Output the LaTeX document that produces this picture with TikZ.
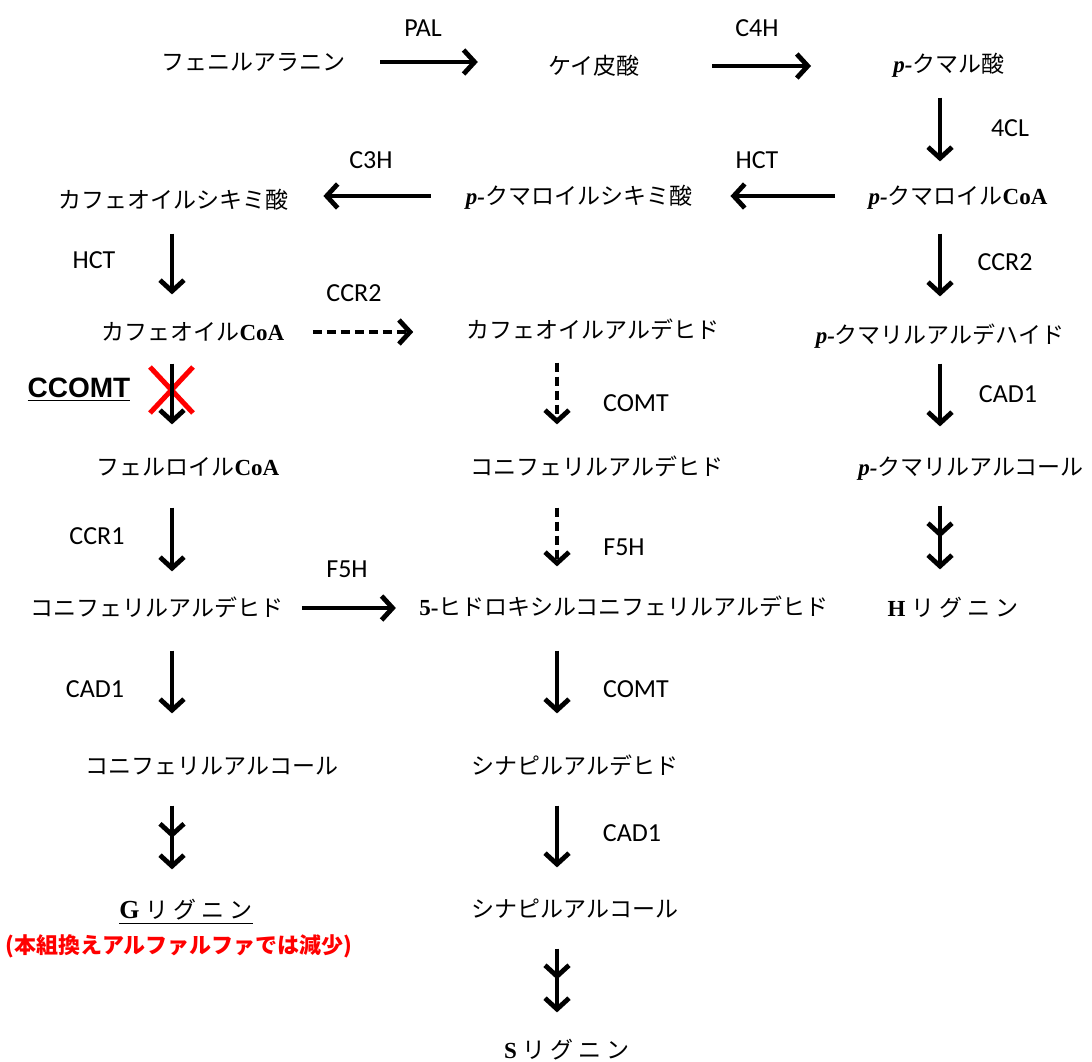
\documentclass[tikz,border=0pt]{standalone}
\usepackage{fontspec}
\setmainfont{Liberation Serif}
\newfontfamily\cjk{Noto Sans CJK JP}
\newfontfamily\enzfont{Carlito}
\newfontfamily\arialfont{Liberation Sans}
\usetikzlibrary{arrows.meta,decorations.markings}
\newcommand{\lat}[1]{{\rmfamily\bfseries #1}}
\newcommand{\pdash}{{\rmfamily\bfseries\itshape p-}}
\newcommand{\lig}{\hspace{3pt}リ\hspace{2.5pt}グ\hspace{2.5pt}ニ\hspace{2.5pt}ン}
\tikzset{
  cmp/.style={font=\cjk\fontsize{11.5}{14}\selectfont, text height=10pt, text depth=1.2pt, inner ysep=0.5pt, inner xsep=0pt},
  enz/.style={font=\enzfont\fontsize{13}{15}\selectfont, inner sep=0pt},
  arr/.style={line width=1.7pt, -{Straight Barb[length=5.5pt,width=12pt,line width=2.4pt]}},
  dsh/.style={arr, dash pattern=on 4.5pt off 2.5pt},
  twostep/.style={arr, postaction={decorate},
    decoration={markings, mark=at position 0.5 with {\arrow{Straight Barb[length=5.5pt,width=12pt,line width=2.4pt]}}}}
}
\begin{document}
\begin{tikzpicture}[x=0.5pt,y=-0.5pt]
\useasboundingbox (0,0) rectangle (1092,1061);
\coordinate (colL) at (172,0);
\coordinate (colM) at (557,0);
\coordinate (colR) at (940,0);

% compounds
\node[cmp] (phe) at (253,62) {フェニルアラニン};
\node[cmp] (cin) at (594,66) {ケイ皮酸};
\node[cmp] (pcou) at (949,64) {\pdash クマル酸};
\node[cmp] (pcoa) at (958,196) {\pdash クマロイル\lat{CoA}};
\node[cmp] (pshik) at (579,196) {\pdash クマロイルシキミ酸};
\node[cmp] (cshik) at (173,200) {カフェオイルシキミ酸};
\node[cmp] (cafcoa) at (193,332) {カフェオイル\lat{CoA}};
\node[cmp] (cafald) at (593,330) {カフェオイルアルデヒド};
\node[cmp] (pald) at (940,335) {\pdash クマリルアルデハイド};
\node[cmp] (ferucoa) at (188,467) {フェルロイル\lat{CoA}};
\node[cmp] (conaldM) at (597,467) {コニフェリルアルデヒド};
\node[cmp] (palc) at (971,467) {\pdash クマリルアルコール};
\node[cmp] (conaldL) at (157,608) {コニフェリルアルデヒド};
\node[cmp] (hydrox) at (624,607) {\lat{5-}ヒドロキシルコニフェリルアルデヒド};
\node[cmp] (hlig) at (953,608) {\lat{H}\lig};
\node[cmp] (conalc) at (212,766) {コニフェリルアルコール};
\node[cmp] (sinald) at (575,766) {シナピルアルデヒド};
\node[cmp] (glig) at (186,910) {\underline{{\rmfamily\bfseries\fontsize{13}{14}\selectfont G}\lig}};
\node[cmp] (sinalc) at (575,909) {シナピルアルコール};
\node[cmp] (slig) at (567,1050) {\lat{S}\lig};
\node[font=\cjk\bfseries\fontsize{11}{14}\selectfont, text=red, inner sep=0pt] (note) at (179,946) {(本組換えアルファルファでは減少)};

% enzymes
\node[enz] (pal) at (423,28) {PAL};
\node[enz] (c4h) at (757,28) {C4H};
\node[enz] (cl4) at (1010,128) {4CL};
\node[enz] (c3h) at (371,160) {C3H};
\node[enz] (hctR) at (757,160) {HCT};
\node[enz] (hctL) at (94,260) {HCT};
\node[enz] (ccr2L) at (354,293) {CCR2};
\node[enz] (ccr2R) at (1005,262) {CCR2};
\node[enz] (comtA) at (636,403) {COMT};
\node[enz] (cad1R) at (1008,394) {CAD1};
\node[enz] (f5hM) at (624,547) {F5H};
\node[enz] (ccr1) at (97,536) {CCR1};
\node[enz] (f5hL) at (347,569) {F5H};
\node[enz] (cad1L) at (95,689) {CAD1};
\node[enz] (comtB) at (636,689) {COMT};
\node[enz] (cad1M) at (632,833) {CAD1};
\node[font=\arialfont\bfseries\fontsize{14}{16}\selectfont, inner sep=0pt] (ccomt) at (79,390) {\underline{CCOMT}};

% blocked step
\draw[red, line width=2.5pt] (150,367) -- (193,413);
\draw[red, line width=2.5pt] (193,367) -- (150,413);

% horizontal steps
\draw[arr, shorten <=17.5pt, shorten >=35pt] (phe.east) -- (phe.east -| cin.west);
\draw[arr, shorten <=36pt, shorten >=41pt] (cin.east) -- (cin.east -| pcou.west);
\draw[arr, shorten <=16.5pt, shorten >=19pt] (pcoa.west) -- (pcoa.west -| pshik.east);
\draw[arr, shorten <=17.5pt, shorten >=17.5pt] (pshik.west) -- (pshik.west -| cshik.east);
\draw[dsh, shorten <=14pt, shorten >=26.5pt] (cafcoa.east) -- (cafcoa.east -| cafald.west);
\draw[arr, shorten <=9pt, shorten >=11.5pt] (conaldL.east) -- (conaldL.east -| hydrox.west);

% right column
\draw[arr, shorten <=10.5pt, shorten >=11pt] (pcou.south -| colR) -- (pcoa.north -| colR);
\draw[arr, shorten <=12.5pt, shorten >=13pt] (pcoa.south -| colR) -- (pald.north -| colR);
\draw[arr, shorten <=8pt, shorten >=14pt] (pald.south -| colR) -- (palc.north -| colR);
\draw[twostep, shorten <=13pt, shorten >=13pt] (palc.south -| colR) -- (hlig.north -| colR);

% left column
\draw[arr, shorten <=10.5pt, shorten >=12.5pt] (cshik.south -| colL) -- (cafcoa.north -| colL);
\draw[arr, shorten <=9.5pt, shorten >=15pt] (cafcoa.south -| colL) -- (ferucoa.north -| colL);
\draw[arr, shorten <=14pt, shorten >=12pt] (ferucoa.south -| colL) -- (conaldL.north -| colL);
\draw[arr, shorten <=15pt, shorten >=20pt] (conaldL.south -| colL) -- (conalc.north -| colL);
\draw[twostep, shorten <=13.5pt, shorten >=14pt] (conalc.south -| colL) -- (glig.north -| colL);

% middle column
\draw[dsh, shorten <=10pt, shorten >=15pt] (cafald.south -| colM) -- (conaldM.north -| colM);
\draw[dsh, shorten <=14pt, shorten >=14pt] (conaldM.south -| colM) -- (hydrox.north -| colM);
\draw[arr, shorten <=15.5pt, shorten >=20pt] (hydrox.south -| colM) -- (sinald.north -| colM);
\draw[arr, shorten <=13.5pt, shorten >=14.5pt] (sinald.south -| colM) -- (sinalc.north -| colM);
\draw[twostep, shorten <=13.5pt, shorten >=12.5pt] (sinalc.south -| colM) -- (slig.north -| colM);
\end{tikzpicture}
\end{document}
